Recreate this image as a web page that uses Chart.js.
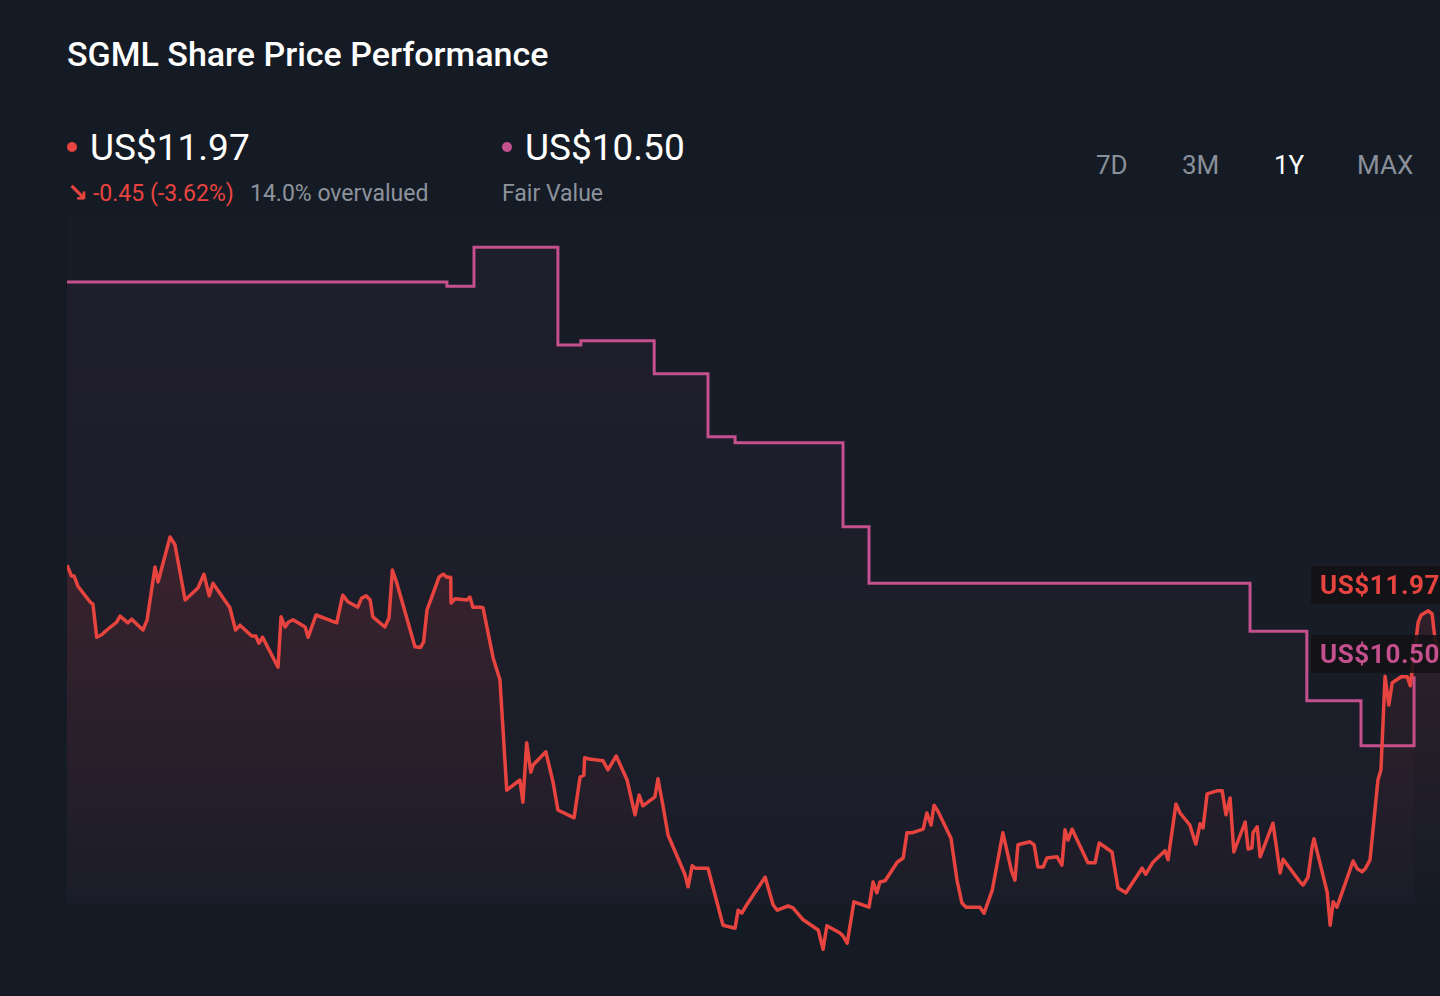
<!DOCTYPE html>
<html>
<head>
<meta charset="utf-8">
<script src="https://cdn.jsdelivr.net/npm/chart.js@4.4.1/dist/chart.umd.min.js"></script>
<style>
  html, body { margin: 0; padding: 0; }
  body {
    width: 1440px; height: 996px; overflow: hidden;
    background: #151b25; font-family: Roboto, "Noto Sans", sans-serif;
    position: relative; color: #fff;
  }
  .abs { position: absolute; line-height: 1; white-space: nowrap; }
  #title { left: 67px; top: 37px; font-size: 34px; font-weight: 500; }
  .big { font-size: 37px; top: 129px; }
  .dot { position: absolute; width: 10px; height: 10px; border-radius: 50%; top: 142px; }
  .sub { font-size: 23px; top: 182px; color: #8d939c; }
  .period { font-size: 26px; top: 152px; color: #8a9099; }
  #area-bg { position: absolute; left: 67px; top: 216px; width: 1373px; height: 689px; background: #171c27; }
  #chart-box { position: absolute; left: 67px; top: 216px; width: 1373px; height: 744px; }
  .tag {
    position: absolute; left: 1311px; width: 140px; height: 38px;
    background: rgba(18, 17, 22, 0.88); font-weight: 700; font-size: 26px;
    letter-spacing: 0.6px; line-height: 38px; padding-left: 9px; box-sizing: border-box;
    white-space: nowrap; overflow: hidden;
  }
</style>
</head>
<body>
<div id="title" class="abs">SGML Share Price Performance</div>

<div class="dot" style="left:67px; background:#e8443f;"></div>
<div class="abs big" style="left:90px;">US$11.97</div>
<div class="abs" style="left:67px; top:180px; color:#e8443f; font-weight:700; font-size:25px; font-family:'DejaVu Sans';">&#8600;</div>
<div class="abs sub" style="left:93px; color:#e8443f;">-0.45 (-3.62%)</div>
<div class="abs sub" style="left:250px;">14.0% overvalued</div>

<div class="dot" style="left:502px; background:#c4508e;"></div>
<div class="abs big" style="left:525px;">US$10.50</div>
<div class="abs sub" style="left:502px;">Fair Value</div>

<div class="abs period" style="left:1096px;">7D</div>
<div class="abs period" style="left:1182px;">3M</div>
<div class="abs period" style="left:1274px; color:#ffffff;">1Y</div>
<div class="abs period" style="left:1357px;">MAX</div>

<div id="area-bg"></div>
<div id="chart-box"><canvas id="chart"></canvas></div>

<div class="tag" style="top:566px; color:#e8443f;">US$11.97</div>
<div class="tag" style="top:635px; color:#c4508e;">US$10.50</div>

<script>
// Share price, days since start of the 1Y window
const priceDays = [
  0, 1.2, 1.9, 2.9, 6.1, 6.9, 7.9, 9.2, 10.6, 13.2, 14.1, 16.2, 17.2, 20.2, 21.3, 23.4, 24.2, 27.4, 28.7, 31.4,
  34.8, 36.4, 37.8, 38.8, 43.3, 44.8, 46.0, 49.1, 50.2, 51.0, 52.0, 56.1, 56.9, 58.0, 58.8, 60.1, 63.3, 64.1, 66.2, 71.7,
  73.3, 74.7, 77.3, 78.3, 79.5, 80.6, 81.3, 84.5, 85.6, 86.5, 87.7, 92.5, 94.0, 94.8, 95.7, 98.9, 100.0, 101.0, 102.0, 102.1,
  103.2, 106.3, 107.1, 107.9, 109.9, 110.6, 113.3, 115.1, 116.9, 120.4, 121.2, 122.2, 123.3, 123.9, 127.3, 129.2, 130.5, 134.8, 136.4, 137.4,
  137.6, 138.8, 142.5, 143.8, 146.0, 148.9, 151.0, 152.1, 153.1, 156.3, 157.1, 158.5, 159.8, 164.3, 165.1, 166.2, 167.0, 170.4, 171.7, 174.4,
  177.6, 178.4, 179.4, 180.8, 185.6, 187.7, 188.8, 191.7, 193.0, 195.7, 199.7, 201.0, 202.0, 205.5, 206.3, 207.4, 209.2, 213.2, 214.3, 215.3,
  216.1, 217.5, 220.7, 222.3, 223.3, 224.6, 227.6, 228.6, 229.7, 230.5, 231.6, 235.0, 236.6, 237.9, 239.0, 242.7, 243.8, 246.0, 248.8, 251.1,
  252.0, 252.8, 256.0, 257.1, 258.1, 259.5, 260.5, 263.2, 264.5, 265.3, 266.1, 267.2, 271.4, 273.3, 274.4, 277.8, 279.4, 281.5, 285.8, 286.8,
  288.7, 291.9, 292.7, 294.8, 295.9, 298.5, 300.1, 301.2, 302.0, 303.1, 305.7, 307.1, 308.1, 309.2, 310.2, 313.2, 314.0, 315.0, 315.3, 316.4,
  317.2, 320.6, 322.5, 323.3, 327.8, 328.6, 329.9, 331.0, 331.5, 335.0, 335.8, 336.6, 337.6, 341.9, 343.0, 344.3, 345.1, 346.4, 348.5, 349.3,
  350.4, 351.4, 352.3, 354.7, 356.3, 357.1, 359.2, 360.0, 361.9, 362.9, 363.7, 365
];
const priceValues = [
  13.38, 13.20, 13.20, 13.03, 12.77, 12.73, 12.18, 12.22, 12.30, 12.43, 12.53, 12.42, 12.48, 12.30, 12.47, 13.35, 13.10, 13.85, 13.72, 12.80,
  13.00, 13.23, 12.87, 13.08, 12.67, 12.30, 12.38, 12.20, 12.20, 12.08, 12.18, 11.68, 12.52, 12.35, 12.43, 12.47, 12.35, 12.18, 12.55, 12.42,
  12.88, 12.77, 12.68, 12.83, 12.87, 12.80, 12.52, 12.35, 12.50, 13.30, 13.08, 12.02, 12.01, 12.10, 12.63, 13.18, 13.23, 13.18, 13.18, 12.75,
  12.82, 12.80, 12.85, 12.68, 12.68, 12.67, 11.83, 11.47, 9.63, 9.80, 9.43, 10.42, 9.93, 10.05, 10.27, 9.77, 9.30, 9.17, 9.85, 9.88,
  10.17, 10.15, 10.12, 9.97, 10.20, 9.80, 9.22, 9.55, 9.37, 9.52, 9.82, 9.35, 8.88, 8.22, 8.02, 8.37, 8.33, 8.33, 8.02, 7.38,
  7.33, 7.63, 7.58, 7.73, 8.18, 7.72, 7.63, 7.70, 7.67, 7.47, 7.30, 6.98, 7.37, 7.25, 7.20, 7.08, 7.77, 7.68, 8.10, 7.92,
  8.10, 8.12, 8.43, 8.50, 8.92, 8.92, 8.98, 9.25, 9.05, 9.38, 9.27, 8.83, 8.13, 7.75, 7.68, 7.68, 7.58, 7.97, 8.92, 8.28,
  8.13, 8.72, 8.77, 8.72, 8.35, 8.35, 8.50, 8.52, 8.38, 8.97, 8.80, 8.98, 8.42, 8.42, 8.75, 8.60, 8.00, 7.92, 8.33, 8.23,
  8.43, 8.62, 8.47, 9.40, 9.25, 9.05, 8.73, 9.07, 9.00, 9.57, 9.62, 9.62, 9.22, 9.50, 8.60, 9.10, 8.65, 8.67, 8.92, 9.02,
  8.52, 9.08, 8.25, 8.48, 8.10, 8.05, 8.18, 8.68, 8.82, 7.93, 7.38, 7.77, 7.68, 8.45, 8.32, 8.27, 8.32, 8.47, 9.80, 9.97,
  11.53, 11.05, 11.42, 11.52, 11.52, 11.37, 12.43, 12.55, 12.62, 12.57, 12.13, 11.97
];

// Fair value estimate: each value holds until the next change
const fairDays = [0, 101.0, 108.2, 130.5, 136.6, 156.1, 170.4, 177.6, 206.3, 213.2, 314.5, 329.6, 344.0, 358.1];
const fairValues = [18.10, 18.03, 18.68, 17.05, 17.12, 16.57, 15.52, 15.42, 14.02, 13.08, 12.28, 11.12, 10.37, 11.53];

const yMin = 6.8;
const yMax = 19.2;
const fillBase = 7.72;

const RED = '#e8443f';
const PINK = '#c4508e';

function toPoints(xs, ys) {
  return xs.map((x, i) => ({ x: x, y: ys[i] }));
}

// vertical gradient between two values on the y scale
function fadeFill(topValue, rgb, a1, a2) {
  return (context) => {
    const chart = context.chart;
    if (!chart.chartArea) return 'transparent';
    const y = chart.scales.y;
    const g = chart.ctx.createLinearGradient(0, y.getPixelForValue(topValue), 0, y.getPixelForValue(fillBase));
    g.addColorStop(0, `rgba(${rgb},${a1})`);
    g.addColorStop(1, `rgba(${rgb},${a2})`);
    return g;
  };
}

new Chart(document.getElementById('chart'), {
  type: 'line',
  data: {
    datasets: [
      {
        label: 'Share Price',
        data: toPoints(priceDays, priceValues),
        borderColor: RED,
        borderWidth: 3.5,
        borderJoinStyle: 'round',
        pointRadius: 0,
        tension: 0,
        fill: { target: { value: fillBase }, above: fadeFill(Math.max(...priceValues), '232,66,64', 0.15, 0.0), below: 'transparent' },
        order: 1
      },
      {
        label: 'Fair Value',
        data: toPoints(fairDays, fairValues),
        borderColor: PINK,
        borderWidth: 3,
        pointRadius: 0,
        stepped: 'before',
        fill: { target: { value: fillBase }, above: fadeFill(Math.max(...fairValues), '196,80,142', 0.05, 0.02), below: 'transparent' },
        order: 2
      }
    ]
  },
  options: {
    responsive: true,
    maintainAspectRatio: false,
    animation: false,
    layout: { padding: 0 },
    plugins: { legend: { display: false }, tooltip: { enabled: false } },
    scales: {
      x: { type: 'linear', min: 0, max: 365, display: false },
      y: { min: yMin, max: yMax, display: false }
    }
  }
});
</script>
</body>
</html>
